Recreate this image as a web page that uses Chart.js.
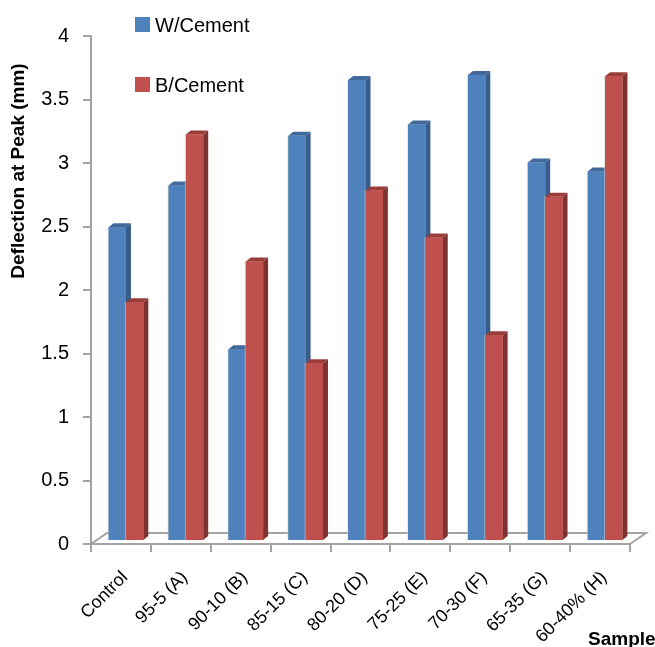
<!DOCTYPE html>
<html>
<head>
<meta charset="utf-8">
<script src="https://cdn.jsdelivr.net/npm/chart.js@4/dist/chart.umd.min.js"></script>
<style>
  html, body { margin: 0; padding: 0; background: #ffffff; }
  #wrap { width: 655px; height: 647px; }
</style>
</head>
<body>
<div id="wrap"><canvas id="chart" width="655" height="647"></canvas></div>
<script>
// Sample mixes and measured deflection at peak load (mm)
const categories = ['Control', '95-5 (A)', '90-10 (B)', '85-15 (C)', '80-20 (D)', '75-25 (E)', '70-30 (F)', '65-35 (G)', '60-40% (H)'];
const wCement = [2.47, 2.80, 1.51, 3.19, 3.63, 3.28, 3.67, 2.98, 2.91];
const bCement = [1.88, 3.20, 2.20, 1.40, 2.76, 2.39, 1.62, 2.71, 3.66];
const seriesNames = ['W/Cement', 'B/Cement'];
const yTickValues = [0, 0.5, 1, 1.5, 2, 2.5, 3, 3.5, 4];
const yTitle = 'Deflection at Peak (mm)';
const xTitle = 'Sample';

const FONT = "'Liberation Sans', Arial, sans-serif";
const AXIS_GREY = '#a3a3a3';

// 3D look: bars sit a little behind the front plane and have a visible depth
const BAR_SHIFT = { dx: 5, dy: 3 };
const BAR_DEPTH = { dx: 5, dy: 4 };
const FLOOR_DEPTH = { dx: 16, dy: 11 };

function drawBar3d(ctx, el, ds) {
  const l = el.x - el.width / 2, r = el.x + el.width / 2;
  const t = el.y, b = el.base;
  // side face
  ctx.fillStyle = ds.sideColor;
  ctx.beginPath();
  ctx.moveTo(r, t);
  ctx.lineTo(r + BAR_DEPTH.dx, t - BAR_DEPTH.dy);
  ctx.lineTo(r + BAR_DEPTH.dx, b - BAR_DEPTH.dy);
  ctx.lineTo(r, b);
  ctx.closePath();
  ctx.fill();
  // top face
  ctx.fillStyle = ds.topColor;
  ctx.beginPath();
  ctx.moveTo(l, t);
  ctx.lineTo(l + BAR_DEPTH.dx, t - BAR_DEPTH.dy);
  ctx.lineTo(r + BAR_DEPTH.dx, t - BAR_DEPTH.dy);
  ctx.lineTo(r, t);
  ctx.closePath();
  ctx.fill();
  // front face with a faint light rim
  ctx.fillStyle = ds.backgroundColor;
  ctx.fillRect(l, t, r - l, b - t);
  ctx.strokeStyle = 'rgba(210,210,210,0.55)';
  ctx.lineWidth = 1;
  ctx.beginPath();
  ctx.moveTo(l - 0.5, b);
  ctx.lineTo(l - 0.5, t - 0.5);
  ctx.stroke();
}

const bars3d = {
  id: 'bars3d',
  afterDatasetsUpdate(chart) {
    chart.data.datasets.forEach((ds, i) => {
      chart.getDatasetMeta(i).data.forEach(el => {
        el.x += BAR_SHIFT.dx;
        el.y -= BAR_SHIFT.dy;
        el.base -= BAR_SHIFT.dy;
      });
    });
  },
  beforeDatasetsDraw(chart) {
    // floor of the 3D plot
    const { ctx, chartArea: a } = chart;
    ctx.save();
    ctx.strokeStyle = AXIS_GREY;
    ctx.lineWidth = 2;
    ctx.beginPath();
    ctx.moveTo(a.left, a.bottom);
    ctx.lineTo(a.left + FLOOR_DEPTH.dx, a.bottom - FLOOR_DEPTH.dy);
    ctx.lineTo(a.right + FLOOR_DEPTH.dx, a.bottom - FLOOR_DEPTH.dy);
    ctx.lineTo(a.right, a.bottom);
    ctx.stroke();
    ctx.restore();
  },
  afterDatasetsDraw(chart) {
    // paint each series as solid blocks, first series first, so the
    // second series sits in front of the first one's side faces
    const { ctx } = chart;
    ctx.save();
    chart.data.datasets.forEach((ds, i) => {
      chart.getDatasetMeta(i).data.forEach(el => drawBar3d(ctx, el, ds));
    });
    ctx.restore();
  },
  afterDraw(chart) {
    const { ctx } = chart;
    ctx.save();
    // legend, stacked vertically
    const legendRows = [32, 92];
    chart.data.datasets.forEach((ds, i) => {
      const y = legendRows[i];
      ctx.fillStyle = ds.backgroundColor;
      ctx.fillRect(135, y - 15, 15, 15);
      ctx.fillStyle = '#000';
      ctx.font = '20px ' + FONT;
      ctx.textAlign = 'left';
      ctx.textBaseline = 'alphabetic';
      ctx.fillText(ds.label, 155, y);
    });
    // y-axis title
    ctx.font = 'bold 19px ' + FONT;
    ctx.translate(19, 171);
    ctx.rotate(-Math.PI / 2);
    ctx.textAlign = 'center';
    ctx.textBaseline = 'middle';
    ctx.fillText(yTitle, 0, 0);
    ctx.setTransform(1, 0, 0, 1, 0, 0);
    // x-axis title
    ctx.font = 'bold 19px ' + FONT;
    ctx.textAlign = 'left';
    ctx.textBaseline = 'alphabetic';
    ctx.fillText(xTitle, 588, 645);
    ctx.restore();
  }
};

const chart = new Chart(document.getElementById('chart'), {
  type: 'bar',
  data: {
    labels: categories,
    datasets: [
      {
        label: seriesNames[0],
        data: wCement,
        backgroundColor: '#4f81bd',
        sideColor: '#385d8a',
        topColor: '#41699a'
      },
      {
        label: seriesNames[1],
        data: bCement,
        backgroundColor: '#c0504d',
        sideColor: '#7f3331',
        topColor: '#9a3c3a'
      }
    ]
  },
  options: {
    responsive: false,
    devicePixelRatio: 1,
    animation: false,
    categoryPercentage: 0.58,
    barPercentage: 1.0,
    layout: { padding: { left: 0, top: 36, right: 25, bottom: 0 } },
    plugins: {
      legend: { display: false },
      tooltip: { enabled: false }
    },
    scales: {
      x: {
        offset: true,
        grid: {
          offset: true,
          drawOnChartArea: false,
          drawTicks: true,
          tickLength: 8,
          color: AXIS_GREY,
          lineWidth: 2
        },
        border: { display: true, color: AXIS_GREY, width: 2 },
        ticks: {
          minRotation: 45,
          maxRotation: 45,
          padding: 15,
          labelOffset: 4,
          color: '#000',
          font: { family: FONT, size: 18 }
        },
        afterFit(scale) { scale.height = 103; }
      },
      y: {
        min: 0,
        max: 4,
        afterBuildTicks(scale) { scale.ticks = yTickValues.map(v => ({ value: v })); },
        grid: {
          drawOnChartArea: false,
          drawTicks: true,
          tickLength: 8,
          color: AXIS_GREY,
          lineWidth: 2
        },
        border: { display: true, color: AXIS_GREY, width: 2 },
        ticks: {
          padding: 14,
          color: '#000',
          font: { family: FONT, size: 20 },
          callback: v => String(v)
        },
        afterFit(scale) { scale.width = 91; }
      }
    }
  },
  plugins: [bars3d]
});
</script>
</body>
</html>
